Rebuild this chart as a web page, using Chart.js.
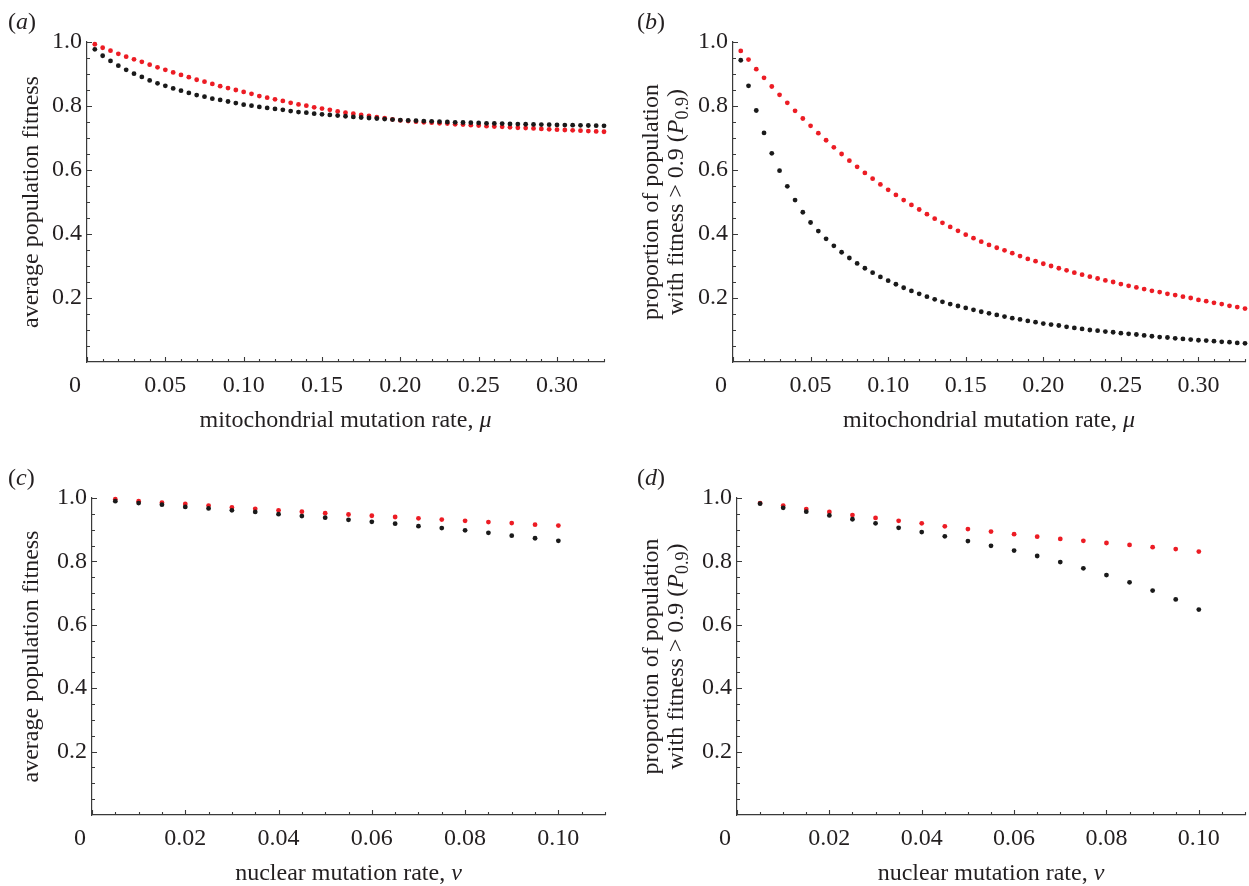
<!DOCTYPE html>
<html>
<head>
<meta charset="utf-8">
<script src="https://cdn.jsdelivr.net/npm/chart.js@4.4.1/dist/chart.umd.min.js"></script>
<style>
  html, body { margin: 0; padding: 0; background: #fff; }
  #wrap { position: relative; width: 1249px; height: 886px; overflow: hidden; background: #fff; }
  #wrap canvas { position: absolute; }
</style>
</head>
<body>
<div id="wrap">
  <canvas id="panelA" width="620" height="443" style="left:0;top:0"></canvas>
  <canvas id="panelB" width="629" height="443" style="left:620px;top:0"></canvas>
  <canvas id="panelC" width="620" height="443" style="left:0;top:443px"></canvas>
  <canvas id="panelD" width="629" height="443" style="left:620px;top:443px"></canvas>
</div>
<script>
// ===== data: mitochondrial mutation rate (panels a, b)
const mu = [
  0.005, 0.010, 0.015, 0.020, 0.025, 0.030, 0.035, 0.040, 0.045, 0.050,
  0.055, 0.060, 0.065, 0.070, 0.075, 0.080, 0.085, 0.090, 0.095, 0.100,
  0.105, 0.110, 0.115, 0.120, 0.125, 0.130, 0.135, 0.140, 0.145, 0.150,
  0.155, 0.160, 0.165, 0.170, 0.175, 0.180, 0.185, 0.190, 0.195, 0.200,
  0.205, 0.210, 0.215, 0.220, 0.225, 0.230, 0.235, 0.240, 0.245, 0.250,
  0.255, 0.260, 0.265, 0.270, 0.275, 0.280, 0.285, 0.290, 0.295, 0.300,
  0.305, 0.310, 0.315, 0.320, 0.325, 0.330
];
const fitnessMuRed = [
  0.993, 0.982, 0.973, 0.963, 0.954, 0.946, 0.938, 0.929, 0.921, 0.913,
  0.905, 0.897, 0.890, 0.882, 0.876, 0.869, 0.862, 0.856, 0.850, 0.844,
  0.838, 0.831, 0.826, 0.821, 0.816, 0.810, 0.805, 0.801, 0.796, 0.792,
  0.788, 0.783, 0.779, 0.776, 0.772, 0.769, 0.765, 0.762, 0.758, 0.755,
  0.753, 0.751, 0.749, 0.748, 0.746, 0.745, 0.743, 0.742, 0.740, 0.739,
  0.737, 0.736, 0.735, 0.7335, 0.732, 0.731, 0.730, 0.7285, 0.727, 0.726,
  0.725, 0.724, 0.723, 0.7215, 0.7205, 0.7195
];
const fitnessMuBlack = [
  0.977, 0.957, 0.941, 0.926, 0.913, 0.901, 0.891, 0.880, 0.871, 0.863,
  0.855, 0.848, 0.841, 0.834, 0.829, 0.823, 0.819, 0.814, 0.809, 0.804,
  0.801, 0.797, 0.794, 0.791, 0.788, 0.784, 0.781, 0.779, 0.776, 0.774,
  0.772, 0.770, 0.768, 0.766, 0.764, 0.7625, 0.761, 0.759, 0.7575, 0.756,
  0.755, 0.754, 0.753, 0.752, 0.751, 0.750, 0.749, 0.7485, 0.748, 0.747,
  0.746, 0.7455, 0.745, 0.744, 0.7435, 0.743, 0.7425, 0.742, 0.7415, 0.741,
  0.7405, 0.740, 0.7395, 0.739, 0.7385, 0.738
];
const p09MuRed = [
  0.972, 0.945, 0.915, 0.888, 0.861, 0.835, 0.810, 0.785, 0.761, 0.738,
  0.715, 0.693, 0.671, 0.650, 0.629, 0.610, 0.591, 0.573, 0.555, 0.538,
  0.522, 0.506, 0.491, 0.4765, 0.462, 0.448, 0.435, 0.422, 0.410, 0.398,
  0.387, 0.376, 0.366, 0.357, 0.349, 0.340, 0.331, 0.322, 0.315, 0.307,
  0.300, 0.293, 0.2865, 0.279, 0.273, 0.2665, 0.261, 0.255, 0.250, 0.2435,
  0.238, 0.233, 0.228, 0.2225, 0.2185, 0.213, 0.209, 0.204, 0.200, 0.194,
  0.190, 0.185, 0.181, 0.1755, 0.1715, 0.167
];
const p09MuBlack = [
  0.943, 0.863, 0.786, 0.716, 0.652, 0.598, 0.549, 0.506, 0.468, 0.436,
  0.409, 0.385, 0.363, 0.343, 0.325, 0.308, 0.293, 0.279, 0.266, 0.254,
  0.243, 0.232, 0.222, 0.213, 0.204, 0.196, 0.188, 0.181, 0.175, 0.169,
  0.163, 0.157, 0.152, 0.147, 0.142, 0.137, 0.133, 0.1285, 0.1245, 0.120,
  0.117, 0.114, 0.110, 0.1065, 0.1035, 0.100, 0.098, 0.095, 0.093, 0.090,
  0.088, 0.086, 0.083, 0.0805, 0.078, 0.0765, 0.074, 0.072, 0.070, 0.068,
  0.067, 0.065, 0.063, 0.062, 0.0595, 0.0585
];

// ===== data: nuclear mutation rate (panels c, d)
const nu = [
  0.005, 0.010, 0.015, 0.020, 0.025, 0.030, 0.035, 0.040, 0.045, 0.050,
  0.055, 0.060, 0.065, 0.070, 0.075, 0.080, 0.085, 0.090, 0.095, 0.100
];
const fitnessNuRed = [
  0.996, 0.990, 0.985, 0.981, 0.976, 0.970, 0.966, 0.961, 0.957, 0.952,
  0.948, 0.944, 0.940, 0.936, 0.932, 0.928, 0.924, 0.921, 0.916, 0.913
];
const fitnessNuBlack = [
  0.990, 0.984, 0.979, 0.972, 0.967, 0.961, 0.956, 0.949, 0.943, 0.938,
  0.931, 0.925, 0.919, 0.911, 0.905, 0.898, 0.890, 0.881, 0.873, 0.865
];
const p09NuRed = [
  0.984, 0.976, 0.965, 0.956, 0.946, 0.937, 0.928, 0.920, 0.9105, 0.902,
  0.894, 0.886, 0.878, 0.871, 0.865, 0.858, 0.852, 0.845, 0.839, 0.831
];
const p09NuBlack = [
  0.982, 0.969, 0.957, 0.945, 0.933, 0.920, 0.906, 0.8925, 0.879, 0.864,
  0.849, 0.834, 0.817, 0.798, 0.778, 0.757, 0.734, 0.708, 0.680, 0.648
];

// ===== ticks
const muMajor = [0, 0.05, 0.10, 0.15, 0.20, 0.25, 0.30];
const muLabels = ["0", "0.05", "0.10", "0.15", "0.20", "0.25", "0.30"];
const muMinor = [
  0.01, 0.02, 0.03, 0.04, 0.06, 0.07, 0.08, 0.09, 0.11, 0.12, 0.13, 0.14,
  0.16, 0.17, 0.18, 0.19, 0.21, 0.22, 0.23, 0.24, 0.26, 0.27, 0.28, 0.29,
  0.31, 0.32, 0.33
];
const nuMajor = [0, 0.02, 0.04, 0.06, 0.08, 0.10];
const nuLabels = ["0", "0.02", "0.04", "0.06", "0.08", "0.10"];
const nuMinor = [
  0.005, 0.010, 0.015, 0.025, 0.030, 0.035, 0.045, 0.050, 0.055,
  0.065, 0.070, 0.075, 0.085, 0.090, 0.095, 0.105, 0.110
];
const yMajor = [0.2, 0.4, 0.6, 0.8, 1.0];
const yLabels = ["0.2", "0.4", "0.6", "0.8", "1.0"];
const yMinor = [
  0.05, 0.10, 0.15, 0.25, 0.30, 0.35, 0.45, 0.50, 0.55,
  0.65, 0.70, 0.75, 0.85, 0.90, 0.95
];

// ===== style
const SERIF = '"Liberation Serif", "DejaVu Serif", serif';
const RED = "#ec1c24";
const BLACK = "#1a1a1a";
const AXIS = "#3a3a3a";
const INK = "#231f20";
const TITLE_PX = 24;
const SUB_PX = 18;

function toPoints(xs, ys) {
  return xs.map((x, i) => ({ x, y: ys[i] }));
}

function runFont(r) {
  return (r.italic ? "italic " : "") + (r.sub ? SUB_PX : TITLE_PX) + "px " + SERIF;
}

// rich text: [{t, italic, sub}], optional rotation
function drawRuns(ctx, runs, x, y, angle, align) {
  ctx.save();
  ctx.translate(x, y);
  ctx.rotate(angle);
  const widths = runs.map((r) => {
    ctx.font = runFont(r);
    return ctx.measureText(r.t).width;
  });
  const total = widths.reduce((a, b) => a + b, 0);
  let cx = align === "center" ? -total / 2 : 0;
  runs.forEach((r, i) => {
    ctx.font = runFont(r);
    ctx.fillText(r.t, cx, r.sub ? 5 : 0);
    cx += widths[i];
  });
  ctx.restore();
}

// ===== inward tick marks (major longer than minor)
const tickMarks = {
  id: "tickMarks",
  afterDraw(chart, args, o) {
    const { ctx } = chart;
    const xs = chart.scales.x;
    const ys = chart.scales.y;
    ctx.save();
    ctx.strokeStyle = AXIS;
    ctx.lineWidth = 1.1;
    ctx.beginPath();
    const xTick = (v, len) => {
      const px = Math.round(xs.getPixelForValue(v)) + 0.5;
      ctx.moveTo(px, xs.top);
      ctx.lineTo(px, xs.top - len);
    };
    const yTick = (v, len) => {
      const py = Math.round(ys.getPixelForValue(v)) + 0.5;
      ctx.moveTo(ys.right, py);
      ctx.lineTo(ys.right + len, py);
    };
    o.xMajor.forEach((v) => xTick(v, 5));
    o.xMinor.forEach((v) => xTick(v, 3));
    yMajor.forEach((v) => yTick(v, 5));
    yMinor.forEach((v) => yTick(v, 3));
    ctx.stroke();
    ctx.restore();
  },
};

// ===== panel letter + axis titles
const panelText = {
  id: "panelText",
  afterDraw(chart, args, o) {
    const { ctx, chartArea: a } = chart;
    ctx.save();
    ctx.fillStyle = INK;
    ctx.textBaseline = "alphabetic";
    drawRuns(ctx, [{ t: "(" }, { t: o.letter, italic: true }, { t: ")" }], o.letterX, a.top - 13, 0, "left");
    drawRuns(ctx, o.xTitle, (a.left + a.right) / 2, a.bottom + 65, 0, "center");
    o.yTitle.forEach((line, i) => {
      drawRuns(ctx, line, o.yTitleX[i], (a.top + a.bottom) / 2, -Math.PI / 2, "center");
    });
    ctx.restore();
  },
};

function makePanel(id, p) {
  const el = document.getElementById(id);
  const tickFont = { family: SERIF, size: 24 };
  return new Chart(el, {
    type: "scatter",
    data: {
      datasets: [
        {
          label: "black",
          data: toPoints(p.xs, p.black),
          backgroundColor: BLACK,
          borderWidth: 0,
          pointRadius: 2.4,
          clip: false,
        },
        {
          label: "red",
          data: toPoints(p.xs, p.red),
          backgroundColor: RED,
          borderWidth: 0,
          pointRadius: 2.4,
          clip: false,
        },
      ],
    },
    options: {
      responsive: false,
      animation: false,
      devicePixelRatio: 1,
      layout: { padding: { left: 0, right: p.padR, top: p.padT, bottom: 0 } },
      plugins: {
        legend: { display: false },
        tooltip: { enabled: false },
        tickMarks: { xMajor: p.xMajor, xMinor: p.xMinor },
        panelText: {
          letter: p.letter,
          letterX: p.letterX,
          xTitle: p.xTitle,
          yTitle: p.yTitle,
          yTitleX: p.yTitleX,
        },
      },
      scales: {
        x: {
          type: "linear",
          min: 0,
          max: p.xMax,
          afterBuildTicks: (s) => {
            s.ticks = p.xMajor.map((v) => ({ value: v }));
          },
          afterFit: (s) => {
            s.height = p.xH;
          },
          grid: { display: false, drawTicks: false },
          border: { display: true, color: AXIS, width: 1.2 },
          ticks: {
            autoSkip: false,
            maxRotation: 0,
            padding: 9,
            color: INK,
            font: tickFont,
            callback: (v) => {
              const i = p.xMajor.indexOf(v);
              if (i < 0) return "";
              // Mathematica nudges the origin label left of the axis
              return v === 0 ? p.xLabels[i] + "\u2007\u2007" : p.xLabels[i];
            },
          },
        },
        y: {
          type: "linear",
          min: 0,
          max: 1,
          afterBuildTicks: (s) => {
            s.ticks = yMajor.map((v) => ({ value: v }));
          },
          afterFit: (s) => {
            s.width = p.yW;
          },
          grid: { display: false, drawTicks: false },
          border: { display: true, color: AXIS, width: 1.2 },
          ticks: {
            autoSkip: false,
            padding: 5,
            color: INK,
            font: tickFont,
            callback: (v) => {
              const i = yMajor.indexOf(v);
              return i < 0 ? "" : yLabels[i];
            },
          },
        },
      },
    },
    plugins: [tickMarks, panelText],
  });
}

const muTitle = [{ t: "mitochondrial mutation rate, " }, { t: "\u03bc", italic: true }];
const nuTitle = [{ t: "nuclear mutation rate, " }, { t: "\u03bd", italic: true }];
const fitTitle = [[{ t: "average population fitness" }]];
const p09Title = [
  [{ t: "proportion of population" }],
  [
    { t: "with fitness > 0.9 (" },
    { t: "P", italic: true },
    { t: "0.9", sub: true },
    { t: ")" },
  ],
];

makePanel("panelA", {
  letter: "a", letterX: 8,
  xs: mu, red: fitnessMuRed, black: fitnessMuBlack,
  xMax: 0.33, xMajor: muMajor, xLabels: muLabels, xMinor: muMinor,
  yW: 87, padR: 16, padT: 42, xH: 81,
  xTitle: muTitle, yTitle: fitTitle, yTitleX: [38],
});
makePanel("panelB", {
  letter: "b", letterX: 17,
  xs: mu, red: p09MuRed, black: p09MuBlack,
  xMax: 0.33, xMajor: muMajor, xLabels: muLabels, xMinor: muMinor,
  yW: 113, padR: 1, padT: 42, xH: 81,
  xTitle: muTitle, yTitle: p09Title, yTitleX: [38, 63],
});
makePanel("panelC", {
  letter: "c", letterX: 8,
  xs: nu, red: fitnessNuRed, black: fitnessNuBlack,
  xMax: 0.11, xMajor: nuMajor, xLabels: nuLabels, xMinor: nuMinor,
  yW: 92, padR: 15, padT: 55, xH: 71,
  xTitle: nuTitle, yTitle: fitTitle, yTitleX: [38],
});
makePanel("panelD", {
  letter: "d", letterX: 17,
  xs: nu, red: p09NuRed, black: p09NuBlack,
  xMax: 0.11, xMajor: nuMajor, xLabels: nuLabels, xMinor: nuMinor,
  yW: 117, padR: 1, padT: 55, xH: 71,
  xTitle: nuTitle, yTitle: p09Title, yTitleX: [38, 63],
});
</script>
</body>
</html>
